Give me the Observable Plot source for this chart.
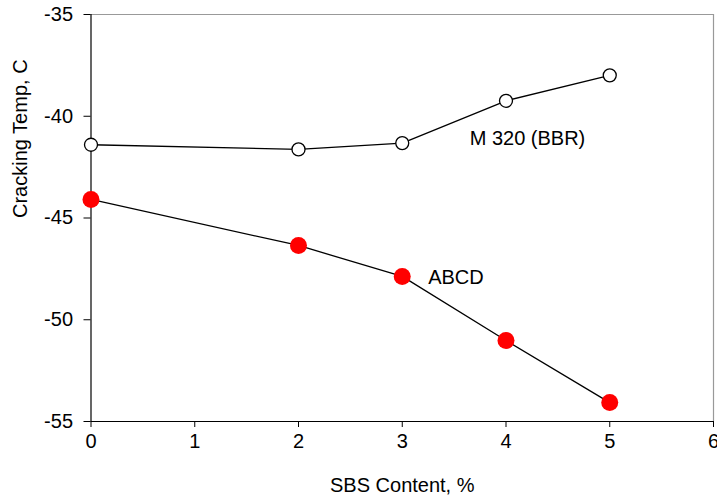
<!DOCTYPE html>
<html><head><meta charset="utf-8">
<script src="https://cdn.jsdelivr.net/npm/d3@7"></script>
<script src="https://cdn.jsdelivr.net/npm/@observablehq/plot@0.6"></script>
<style>html,body{margin:0;padding:0;background:#fff} svg{display:block}</style>
</head><body><div id="chart"></div>
<script>
const sbs = [0, 2, 3, 4, 5];
const m320 = [-41.40, -41.63, -41.32, -39.24, -37.99];
const abcd = [-44.09, -46.35, -47.87, -51.02, -54.07];
const xTicks = [0, 1, 2, 3, 4, 5, 6];
const yTicks = [-55, -50, -45, -40, -35];
const seriesNames = ["M 320 (BBR)", "ABCD"];
const labelX = [3.65, 3.25];
const labelY = [-41.10, -47.95];

const m320Data = sbs.map((x, i) => ({x, y: m320[i]}));
const abcdData = sbs.map((x, i) => ({x, y: abcd[i]}));
const labels = seriesNames.map((name, i) => ({name, x: labelX[i], y: labelY[i]}));

const FS = 20;
const chart = Plot.plot({
  width: 717,
  height: 502,
  marginLeft: 90.5,
  marginRight: 4,
  marginTop: 14,
  marginBottom: 81,
  style: {fontFamily: "'Liberation Sans', Arial, sans-serif", fontSize: FS + "px", background: "#fff", color: "#000"},
  x: {domain: [0, 6], axis: null},
  y: {domain: [-55, -35], axis: null},
  marks: [
    Plot.ruleY([-35], {stroke: "#999", strokeWidth: 1.2}),
    Plot.ruleX([6], {stroke: "#999", strokeWidth: 1.2}),
    Plot.axisX(xTicks, {tickSize: 6, tickPadding: 6, fontSize: FS, label: null, tickFormat: d => String(d)}),
    Plot.axisY(yTicks, {tickSize: 7, tickPadding: 11, fontSize: FS, label: null, tickFormat: d => String(d)}),
    Plot.ruleY([-55], {stroke: "#000", strokeWidth: 1.2}),
    Plot.ruleX([0], {stroke: "#000", strokeWidth: 1.2}),
    Plot.line(m320Data, {x: "x", y: "y", stroke: "#000", strokeWidth: 1.3}),
    Plot.line(abcdData, {x: "x", y: "y", stroke: "#000", strokeWidth: 1.3}),
    Plot.dot(m320Data, {x: "x", y: "y", r: 6.5, fill: "#fff", stroke: "#000", strokeWidth: 1.3}),
    Plot.dot(abcdData, {x: "x", y: "y", r: 8.5, fill: "#ff0000", stroke: "none"}),
    Plot.text(labels, {x: "x", y: "y", text: "name", textAnchor: "start", fontSize: FS, fill: "#000"}),
    Plot.text(["SBS Content, %"], {frameAnchor: "bottom", dy: 70, fontSize: FS, fill: "#000"}),
    Plot.text(["Cracking Temp, C"], {frameAnchor: "left", dx: -70, rotate: -90, fontSize: FS, fill: "#000"})
  ]
});
document.getElementById("chart").appendChild(chart);
</script>
</body></html>
